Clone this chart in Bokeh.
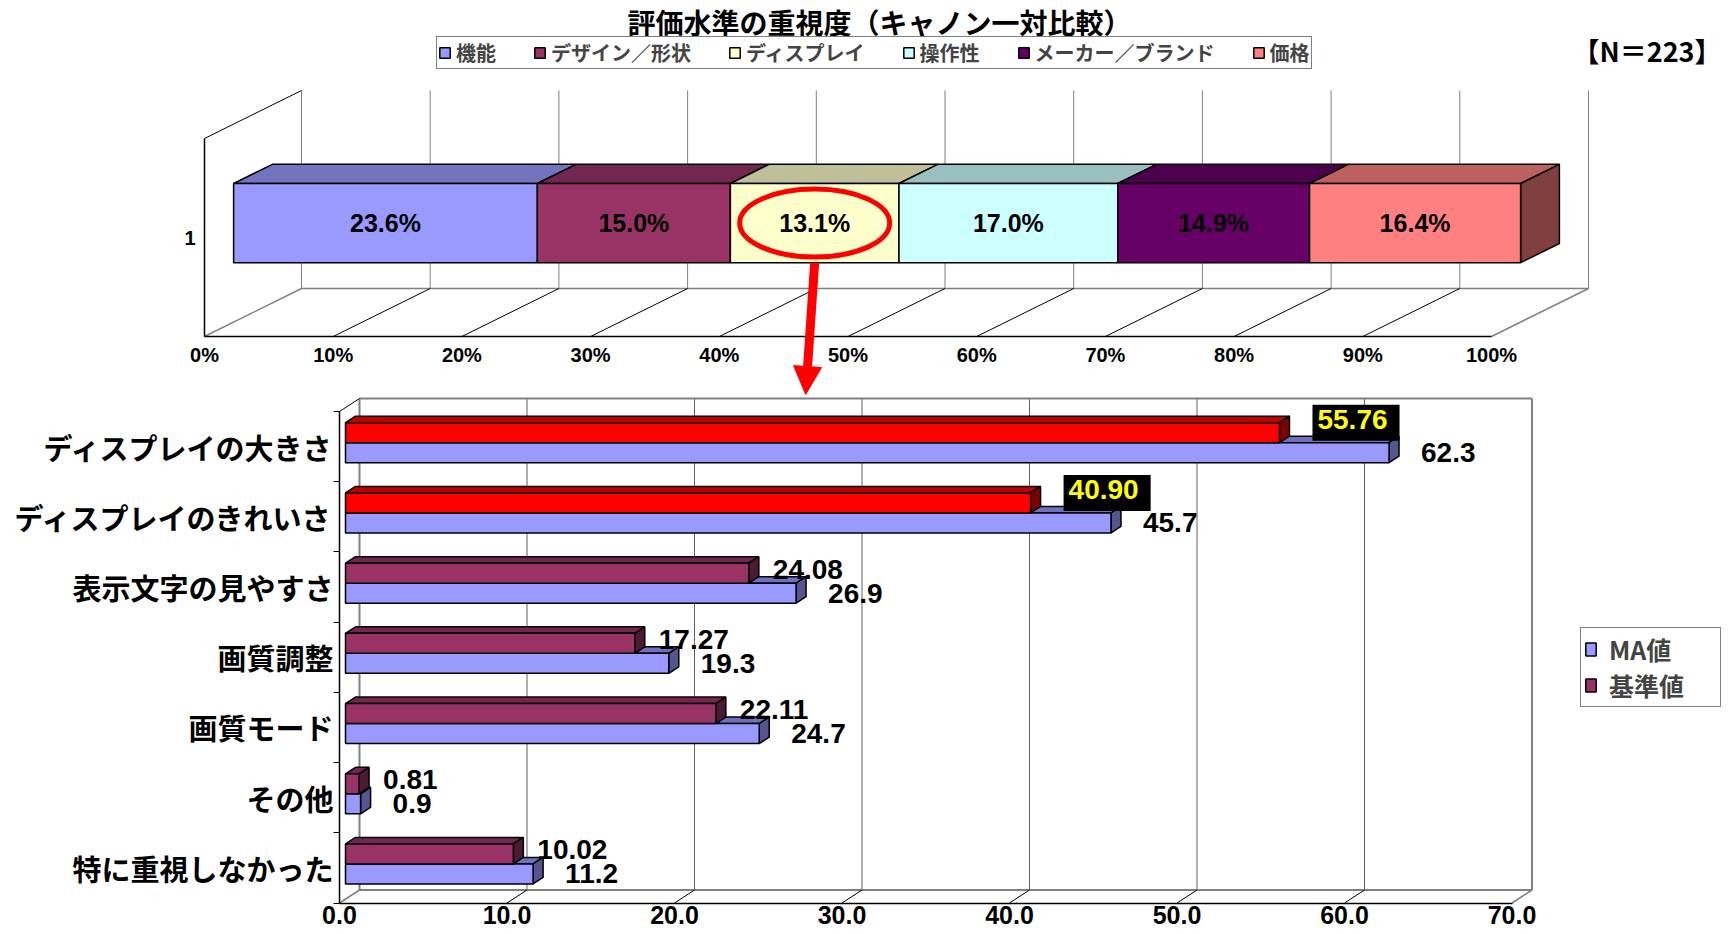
from bokeh.plotting import figure
from bokeh.models import (Range1d, FixedTicker, Legend, LegendItem, ColumnDataSource,
                          Arrow, NormalHead, LinearAxis)
from bokeh.embed import file_html
from bokeh.resources import INLINE
from bokeh.core.properties import value

# ---------------- data ----------------
title_text = "評価水準の重視度（キャノン一対比較）"
sample_text = "【N＝223】"

seg_names = ["機能", "デザイン／形状", "ディスプレイ", "操作性", "メーカー／ブランド", "価格"]
seg_values = [23.6, 15.0, 13.1, 17.0, 14.9, 16.4]
top_ticks = [0, 10, 20, 30, 40, 50, 60, 70, 80, 90, 100]
top_tick_labels = ["0%", "10%", "20%", "30%", "40%", "50%", "60%", "70%", "80%", "90%", "100%"]
top_category = "1"
circled = "ディスプレイ"

categories = ["ディスプレイの大きさ", "ディスプレイのきれいさ", "表示文字の見やすさ",
              "画質調整", "画質モード", "その他", "特に重視しなかった"]
ma_values = [62.3, 45.7, 26.9, 19.3, 24.7, 0.9, 11.2]
base_values = [55.76, 40.90, 24.08, 17.27, 22.11, 0.81, 10.02]
ma_labels = ["62.3", "45.7", "26.9", "19.3", "24.7", "0.9", "11.2"]
base_labels = ["55.76", "40.90", "24.08", "17.27", "22.11", "0.81", "10.02"]
series_names = ["MA値", "基準値"]
highlighted = ["ディスプレイの大きさ", "ディスプレイのきれいさ"]
bottom_ticks = [0, 10, 20, 30, 40, 50, 60, 70]
bottom_tick_labels = ["0.0", "10.0", "20.0", "30.0", "40.0", "50.0", "60.0", "70.0"]

# ---------------- style ----------------
JP = "Noto Sans CJK JP"
NUM = "Liberation Sans"
seg_front = ["#9999FF", "#993366", "#FFFFCC", "#CCFFFF", "#660066", "#FF8080"]
seg_top = ["#7373BF", "#732650", "#BFBF99", "#99BFBF", "#4D004D", "#BF6060"]
seg_side = "#804040"
ma_cols = ("#9999FF", "#7070C0", "#55558F")
base_cols = ("#993366", "#732650", "#4D1A33")
hi_cols = ("#FF0000", "#C00000", "#800000")
WALL = "#808080"

# ---------------- layout (reference pixel geometry) ----------------
PAGE = 0
W, H = 1729, 934
XL, XR, YT, YB = PAGE, PAGE + W, PAGE, PAGE + H      # canvas edges in reference pixels
T_X0, T_PX = 204.0, 12.87      # top chart: x of 0% (front plane), px per %
T_YB, T_PY = 336.0, 99.0       # front floor y, px per y unit
T_DX, T_DY = 97.0 / T_PX, 48.0 / T_PY
B_X0, B_PX = 339.0, 16.75      # bottom chart
B_YB, B_YT = 902.5, 411.0
NC = len(categories)
B_PY = (B_YB - B_YT) / NC
B_DX, B_DY = 20.0 / B_PX, 13.0 / B_PY

p = figure(width=W, height=H, output_backend="svg", toolbar_location=None,
           x_axis_type=None, y_axis_type=None,
           x_range=Range1d(XL, XR), y_range=Range1d(YB, YT),
           min_border_left=0, min_border_right=0, min_border_top=0, min_border_bottom=0)
p.grid.visible = False
p.outline_line_color = None
p.extra_x_ranges = {
    "tx": Range1d((XL - T_X0) / T_PX, (XR - T_X0) / T_PX),
    "bx": Range1d((XL - B_X0) / B_PX, (XR - B_X0) / B_PX),
}
p.extra_y_ranges = {
    "ty": Range1d((T_YB - YB) / T_PY, (T_YB - YT) / T_PY),
    "by": Range1d(0.5 - (YB - B_YB) / B_PY, 0.5 + (B_YB - YT) / B_PY),
}
TK = dict(x_range_name="tx", y_range_name="ty")
BK = dict(x_range_name="bx", y_range_name="by")


def style_axis(ax, font, size, standoff):
    ax.major_tick_out = 0
    ax.major_tick_in = 0
    ax.minor_tick_out = 0
    ax.minor_tick_in = 0
    ax.axis_line_color = "black"
    ax.axis_line_width = 1.5
    ax.major_label_text_font = font
    ax.major_label_text_font_style = "bold"
    ax.major_label_text_font_size = size
    ax.major_label_text_color = "black"
    ax.major_label_standoff = standoff


# ======================= top chart =======================
xa = LinearAxis(fixed_location=0, ticker=FixedTicker(ticks=top_ticks),
                major_label_overrides={t: l for t, l in zip(top_ticks, top_tick_labels)},
                bounds=(top_ticks[0], top_ticks[-1]), **TK)
style_axis(xa, NUM, "20px", 7)
p.add_layout(xa, "below")
ya = LinearAxis(fixed_location=0, ticker=FixedTicker(ticks=[1]),
                major_label_overrides={1: top_category}, bounds=(0, 2), **TK)
style_axis(ya, NUM, "20px", 9)
p.add_layout(ya, "left")

# walls
p.segment([t + T_DX for t in top_ticks], [T_DY] * len(top_ticks),
          [t + T_DX for t in top_ticks], [2 + T_DY] * len(top_ticks),
          line_color=WALL, line_width=1, **TK)
p.segment([T_DX], [T_DY], [top_ticks[-1] + T_DX], [T_DY], line_color=WALL, line_width=1.5, **TK)
p.segment(top_ticks[1:-1], [0] * (len(top_ticks) - 2),
          [t + T_DX for t in top_ticks[1:-1]], [T_DY] * (len(top_ticks) - 2),
          line_color="black", line_width=1, **TK)
p.segment([top_ticks[0], top_ticks[-1]], [0, 0],
          [top_ticks[0] + T_DX, top_ticks[-1] + T_DX], [T_DY, T_DY],
          line_color=WALL, line_width=1.5, **TK)
p.segment([0], [2], [T_DX], [2 + T_DY], line_color="black", line_width=1, **TK)

# stacked 3D bar
starts, ends = [], []
acc = 0.0
for v in seg_values:
    starts.append(acc)
    acc += v
    ends.append(acc)
f0, f1 = 0.3, 0.7
fx0, fy0, fx1, fy1 = f0 * T_DX, f0 * T_DY, f1 * T_DX, f1 * T_DY
HB = 0.4
bb, bt = 1 + fy0 - HB, 1 + fy0 + HB
dd = fy1 - fy0

top_src = ColumnDataSource(dict(
    xs=[[s + fx0, e + fx0, e + fx1, s + fx1] for s, e in zip(starts, ends)],
    ys=[[bt, bt, bt + dd, bt + dd] for _ in starts],
    color=seg_top))
p.patches("xs", "ys", fill_color="color", line_color="black", line_width=1.5, source=top_src, **TK)
p.patch([ends[-1] + fx0, ends[-1] + fx0, ends[-1] + fx1, ends[-1] + fx1],
        [bb, bt, bt + dd, bb + dd], fill_color=seg_side, line_color="black", line_width=1.5, **TK)
front_src = ColumnDataSource(dict(left=[s + fx0 for s in starts], right=[e + fx0 for e in ends],
                                  bottom=[bb] * len(starts), top=[bt] * len(starts),
                                  color=seg_front))
r_front = p.quad(left="left", right="right", bottom="bottom", top="top", fill_color="color",
                 line_color="black", line_width=1.5, source=front_src, **TK)
p.text(x=[(s + e) / 2 + fx0 for s, e in zip(starts, ends)], y=[1 + fy0] * len(starts),
       text=[f"{v:.1f}%" for v in seg_values], text_align="center", text_baseline="middle",
       text_font=value(NUM), text_font_style="bold", text_font_size="25px", text_color="black", **TK)

# highlight ellipse + arrow
ci = seg_names.index(circled)
cx = (starts[ci] + ends[ci]) / 2 + fx0
p.ellipse(x=[cx], y=[1 + fy0], width=150 / T_PX, height=68 / T_PY,
          fill_color=None, line_color="#FF0000", line_width=5, **TK)
p.add_layout(Arrow(end=NormalHead(size=28, fill_color="#FF0000", line_color="#FF0000"),
                   x_start=cx, y_start=bb, x_end=cx - 9 / T_PX, y_end=(T_YB - 394) / T_PY,
                   line_color="#FF0000", line_width=9, **TK))

# titles (reference pixel coordinates)
p.text(x=[879], y=[21], text=[title_text], text_align="center", text_baseline="middle",
       text_font=value(JP), text_font_style="bold", text_font_size="28px", text_color="black")
p.text(x=[1721], y=[50], text=[sample_text], text_align="right", text_baseline="middle",
       text_font=value(JP), text_font_style="bold", text_font_size="27px", text_color="black")

leg1 = Legend(items=[LegendItem(label=nm, renderers=[r_front], index=i) for i, nm in enumerate(seg_names)],
              location=(436 - XL, YB - 69), orientation="horizontal",
              border_line_color="black", border_line_width=1, background_fill_color="white",
              background_fill_alpha=1, padding=1, spacing=37, margin=0, label_standoff=5,
              glyph_width=13, glyph_height=13, label_text_font=JP, label_text_font_style="bold",
              label_text_font_size="20px")
p.add_layout(leg1)

# ======================= bottom chart =======================
yc = [NC - i for i in range(NC)]
xb = LinearAxis(fixed_location=0.5, ticker=FixedTicker(ticks=bottom_ticks),
                major_label_overrides={t: l for t, l in zip(bottom_ticks, bottom_tick_labels)},
                bounds=(bottom_ticks[0], bottom_ticks[-1]), **BK)
style_axis(xb, NUM, "25px", 3)
p.add_layout(xb, "below")
yb = LinearAxis(fixed_location=0, ticker=FixedTicker(ticks=yc, minor_ticks=[k + 0.5 for k in range(NC + 1)]),
                major_label_overrides={y: c for y, c in zip(yc, categories)},
                bounds=(0.5, NC + 0.5), **BK)
style_axis(yb, JP, "29px", 0)
yb.minor_tick_out = 6
yb.minor_tick_line_color = "black"
p.add_layout(yb, "left")

# walls
ylo, yhi = 0.5, NC + 0.5
inner = bottom_ticks[1:-1]
p.segment([t + B_DX for t in inner], [ylo + B_DY] * len(inner),
          [t + B_DX for t in inner], [yhi + B_DY] * len(inner),
          line_color="#606060", line_width=1, **BK)
xl, xr = bottom_ticks[0] + B_DX, bottom_ticks[-1] + B_DX
p.segment([xl, xr, xl, xl], [ylo + B_DY, ylo + B_DY, yhi + B_DY, ylo + B_DY],
          [xl, xr, xr, xr], [yhi + B_DY, yhi + B_DY, yhi + B_DY, ylo + B_DY],
          line_color=WALL, line_width=2, **BK)
p.segment(inner, [ylo] * len(inner), [t + B_DX for t in inner], [ylo + B_DY] * len(inner),
          line_color="black", line_width=1, **BK)
p.segment([bottom_ticks[0], bottom_ticks[-1]], [ylo, ylo], [xl, xr], [ylo + B_DY, ylo + B_DY],
          line_color=WALL, line_width=1.5, **BK)
p.segment([0], [yhi], [B_DX], [yhi + B_DY], line_color="black", line_width=1, **BK)

# 3D bars
g0, g1 = 0.3, 0.8
bx0, by0, bx1, by1 = g0 * B_DX, g0 * B_DY, g1 * B_DX, g1 * B_DY
BH = 20.0 / B_PY
bd = by1 - by0
ma_bot = [c + by0 - BH for c in yc]
base_bot = [c + by0 for c in yc]
is_hi = [c in highlighted for c in categories]


def draw_bars(vals, bots, cols_front, cols_top, cols_side):
    p.patches([[bx0, v + bx0, v + bx1, bx1] for v in vals],
              [[b + BH, b + BH, b + BH + bd, b + BH + bd] for b in bots],
              fill_color=cols_top, line_color="black", line_width=1.5, **BK)
    p.patches([[v + bx0, v + bx0, v + bx1, v + bx1] for v in vals],
              [[b, b + BH, b + BH + bd, b + bd] for b in bots],
              fill_color=cols_side, line_color="black", line_width=1.5, **BK)
    src = ColumnDataSource(dict(left=[bx0] * len(vals), right=[v + bx0 for v in vals],
                                bottom=bots, top=[b + BH for b in bots], color=cols_front))
    return p.quad(left="left", right="right", bottom="bottom", top="top", fill_color="color",
                  line_color="black", line_width=1.5, source=src, **BK)


r_ma = draw_bars(ma_values, ma_bot, [ma_cols[0]] * NC, [ma_cols[1]] * NC, [ma_cols[2]] * NC)
r_base = draw_bars(base_values, base_bot,
                   [hi_cols[0] if h else base_cols[0] for h in is_hi],
                   [hi_cols[1] if h else base_cols[1] for h in is_hi],
                   [hi_cols[2] if h else base_cols[2] for h in is_hi])

# value labels
p.text(x=[v + bx0 for v in ma_values], y=[b + BH / 2 for b in ma_bot], text=ma_labels,
       x_offset=32, text_align="left", text_baseline="middle", text_font=value(NUM),
       text_font_style="bold", text_font_size="28px", text_color="black", **BK)
nrm = [i for i in range(NC) if not is_hi[i]]
hii = [i for i in range(NC) if is_hi[i]]
p.text(x=[base_values[i] + bx0 for i in nrm], y=[base_bot[i] + BH / 2 for i in nrm],
       text=[base_labels[i] for i in nrm], x_offset=24, y_offset=-4, text_align="left",
       text_baseline="middle", text_font=value(NUM), text_font_style="bold",
       text_font_size="28px", text_color="black", **BK)
p.text(x=[base_values[i] + bx0 for i in hii], y=[base_bot[i] + BH / 2 for i in hii],
       text=[base_labels[i] for i in hii], x_offset=33, y_offset=-10, text_align="left",
       text_baseline="middle", text_font=value(NUM), text_font_style="bold",
       text_font_size="28px", text_color="#FFFF00", background_fill_color="black",
       padding=(5, 12, 5, 12), **BK)

leg2 = Legend(items=[LegendItem(label=series_names[0], renderers=[r_ma], index=0),
                     LegendItem(label=series_names[1], renderers=[r_base], index=nrm[0])],
              location=(1580 - XL, YB - 707), orientation="vertical",
              border_line_color="black", border_line_width=1, background_fill_color="white",
              background_fill_alpha=1, padding=3, spacing=0, margin=0, label_standoff=12,
              glyph_width=13, glyph_height=16, label_width=108, label_text_font=JP,
              label_text_font_style="bold", label_text_font_size="25px")
p.add_layout(leg2)

open("out.html", "w").write(file_html(p, INLINE))
